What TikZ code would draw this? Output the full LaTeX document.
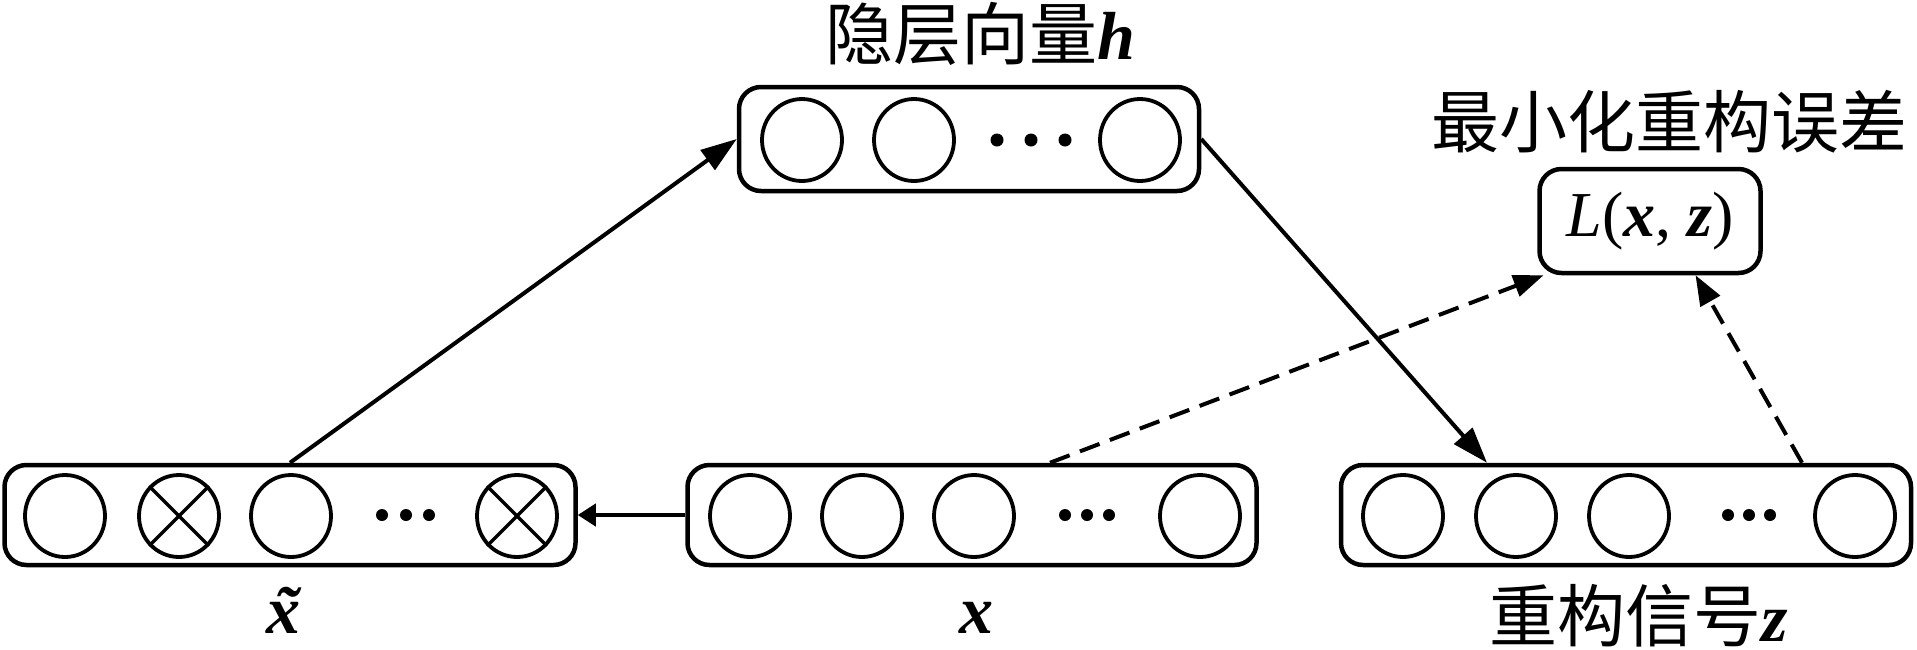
\documentclass[tikz,border=0pt]{standalone}
\usepackage{fontspec}
\setmainfont{Liberation Serif}
\newfontfamily\cjk{Noto Sans CJK SC}
\usetikzlibrary{shapes.geometric,arrows.meta}
\newcommand{\bix}{{\bfseries\itshape x}}
\newcommand{\biz}{{\bfseries\itshape z}}
\newcommand{\bih}{{\bfseries\itshape h}}
\begin{document}
\begin{tikzpicture}[x=1pt,y=-1pt,
  layer/.style={draw,line width=4.5pt,rounded corners=22pt,minimum height=100pt,inner sep=0pt},
  unit/.style={draw,ellipse,line width=3.8pt,minimum width=80pt,minimum height=82pt,inner sep=0pt},
  crossline/.style={line width=3.5pt},
  lbl/.style={font=\fontsize{68pt}{80pt}\selectfont,inner sep=0pt,anchor=base},
  solidarr/.style={line width=4pt,-{Triangle[length=36pt,width=24pt]}},
  shortarr/.style={line width=4pt,-{Triangle[length=18pt,width=22pt]}},
  dasharr/.style={line width=4pt,dash pattern=on 21pt off 11pt,-{Triangle[length=30pt,width=22pt]}},
  ]
\useasboundingbox (0,0) rectangle (1917,649);
% boxes
\node[layer,minimum width=571pt] (xt) at (290,515) {};
\node[layer,minimum width=569pt] (xb) at (972,515) {};
\node[layer,minimum width=570pt] (zb) at (1626,515) {};
\node[layer,minimum width=460pt,minimum height=104pt] (hb) at (969,139) {};
\node[layer,minimum width=221pt,minimum height=104pt,font=\fontsize{64pt}{76pt}\selectfont] (Lb) at (1650,221) {{\itshape L}(\bix, \biz)};
% units in x tilde
\foreach \cx [count=\i] in {65,179,291,517} \node[unit] (xt\i) at (\cx,516) {};
\draw[crossline] (xt2.45) -- (xt2.225) (xt2.135) -- (xt2.315);
\draw[crossline] (xt4.45) -- (xt4.225) (xt4.135) -- (xt4.315);
\foreach \dx in {382,406,429} \fill (\dx,515) circle (6pt);
% units in x
\foreach \cx [count=\i] in {750,862,974,1200} \node[unit] (xu\i) at (\cx,516) {};
\foreach \dx in {1065,1087,1109} \fill (\dx,515) circle (6pt);
% units in z
\foreach \cx [count=\i] in {1403,1516,1629,1855} \node[unit] (zu\i) at (\cx,516) {};
\foreach \dx in {1728,1749,1770} \fill (\dx,515) circle (6pt);
% units in h
\foreach \cx [count=\i] in {802,914,1140} \node[unit] (hu\i) at (\cx,140) {};
\foreach \dx in {997,1031,1065} \fill (\dx,140) circle (6.5pt);
% labels
\node[lbl] (hl) at (980,59) {{\cjk 隐层向量}\bih};
\node[lbl] (ml) at (1669,147) {\cjk 最小化重构误差};
\node[lbl] (zl) at (1639,641) {{\cjk 重构信号}\biz};
\node[lbl] (xl) at (976,633) {\bix};
\node[lbl] (xtl) at (283,633) {\rlap{\hspace{0.13em}\bfseries\itshape\char"02DC}\bix};
% connectors
\draw[solidarr] (xt.north) -- (hb.west);
\draw[solidarr] (hb.east) -- ([xshift=-139pt]zb.north);
\draw[shortarr] (xb.west) -- (xt.east);
\draw[dasharr] ([xshift=78pt]xb.north) -- (Lb.207);
\draw[dasharr] ([xshift=176pt]zb.north) -- (Lb.-50);
\end{tikzpicture}
\end{document}
